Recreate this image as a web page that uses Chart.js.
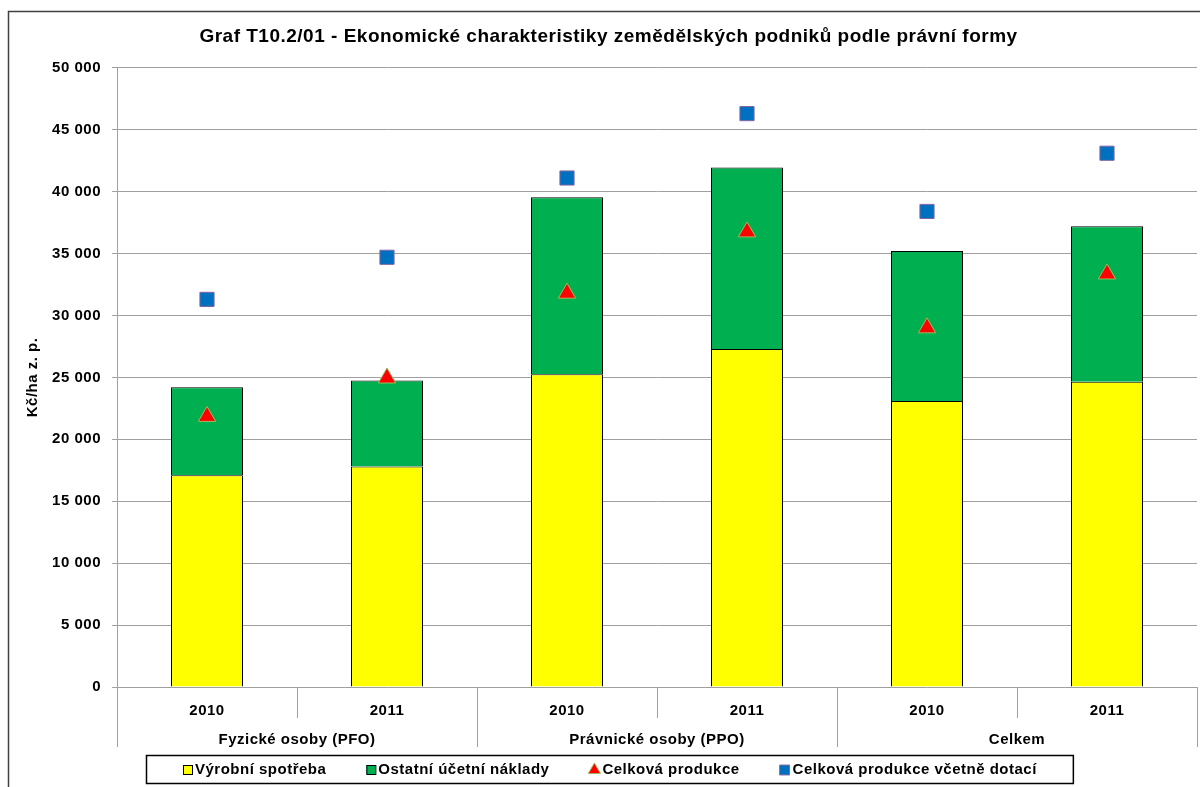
<!DOCTYPE html>
<html>
<head>
<meta charset="utf-8">
<script src="https://cdn.jsdelivr.net/npm/chart.js@4.4.0/dist/chart.umd.min.js"></script>
<style>
  body { margin: 0; background: #fff; }
  #wrap { width: 1200px; height: 787px; position: relative; }
</style>
</head>
<body>
<div id="wrap"><canvas id="chart"></canvas></div>
<script>
const chartTitle = 'Graf T10.2/01 - Ekonomické charakteristiky zemědělských podniků podle právní formy';
const yTitle = 'Kč/ha z. p.';
const groups = ['Fyzické osoby (PFO)', 'Právnické osoby (PPO)', 'Celkem'];
const years = ['2010', '2011', '2010', '2011', '2010', '2011'];
const seriesNames = ['Výrobní spotřeba', 'Ostatní účetní náklady', 'Celková produkce', 'Celková produkce včetně dotací'];

// Kč/ha z. p.
const vyrobniSpotreba = [17100, 17800, 25250, 27300, 23100, 24650];
const ostatniNaklady = [7100, 6950, 14300, 14650, 12100, 12550];
const celkovaProdukce = [21850, 24950, 31800, 36750, 29000, 33350];
const produkceDotace = [31300, 34700, 41100, 46300, 38400, 43100];

const FONT = "'Liberation Sans', Arial, sans-serif";

const fmt = (v) => String(v).replace(/\B(?=(\d{3})+(?!\d))/g, ' ');

// frame, second level of the category axis and the boxed legend
const decor = {
    id: 'decor',
    beforeDraw(chart) {
        const ctx = chart.ctx;
        ctx.save();
        ctx.fillStyle = '#fff';
        ctx.fillRect(0, 0, chart.width, chart.height);
        ctx.strokeStyle = '#404040';
        ctx.lineWidth = 1.5;
        ctx.strokeRect(8.5, 11.5, chart.width + 40, chart.height + 40);
        ctx.restore();
        // excel text runs a bit wider than Liberation Sans
        ctx.letterSpacing = '0.5px';
    },
    afterDraw(chart) {
        const ctx = chart.ctx;
        const x = chart.scales.x;
        const area = chart.chartArea;
        const n = years.length;
        const step = (x.right - x.left) / n;
        const per = n / groups.length;

        ctx.save();
        ctx.strokeStyle = '#a0a0a0';
        ctx.lineWidth = 1;
        for (let i = 0; i <= n; i++) {
            const px = Math.round(x.left + i * step) + 0.5;
            const len = i % per === 0 ? 60 : 31;
            ctx.beginPath();
            ctx.moveTo(px, area.bottom);
            ctx.lineTo(px, area.bottom + len);
            ctx.stroke();
        }

        ctx.fillStyle = '#000';
        ctx.font = 'bold 15px ' + FONT;
        ctx.textAlign = 'center';
        ctx.textBaseline = 'middle';
        groups.forEach((g, i) => {
            ctx.fillText(g, x.left + (i + 0.5) * per * step, area.bottom + 53);
        });

        // legend
        const ly = 770;
        let lx = 183;
        ctx.textAlign = 'left';
        chart.data.datasets.forEach((ds) => {
            if (ds.type === 'bar') {
                ctx.fillStyle = ds.backgroundColor;
                ctx.fillRect(lx, ly - 5, 9, 9);
                ctx.strokeStyle = '#000';
                ctx.strokeRect(lx + 0.5, ly - 4.5, 9, 9);
                lx += 12;
            } else {
                ctx.fillStyle = ds.pointBackgroundColor;
                ctx.strokeStyle = ds.pointBorderColor;
                ctx.lineWidth = 1;
                Chart.helpers.drawPoint(ctx, {
                    pointStyle: ds.pointStyle, radius: 7, rotation: 0, borderWidth: 1
                }, lx + 5, ly);
                lx += 13;
            }
            ctx.fillStyle = '#000';
            ctx.fillText(ds.label, lx, ly);
            lx += ctx.measureText(ds.label).width + 40;
        });
        ctx.strokeStyle = '#000';
        ctx.lineWidth = 1.5;
        ctx.strokeRect(146.5, 755.5, lx - 40 + 36 - 146, 28);
        ctx.restore();
    }
};

new Chart(document.getElementById('chart'), {
    data: {
        labels: years,
        datasets: [
            {
                type: 'bar', label: seriesNames[0], data: vyrobniSpotreba, stack: 'naklady',
                backgroundColor: '#FFFF00', borderColor: '#000', borderWidth: 1,
                barPercentage: 0.4, categoryPercentage: 1, order: 1
            },
            {
                type: 'bar', label: seriesNames[1], data: ostatniNaklady, stack: 'naklady',
                backgroundColor: '#00B050', borderColor: '#000', borderWidth: 1,
                barPercentage: 0.4, categoryPercentage: 1, order: 1
            },
            {
                type: 'line', label: seriesNames[2], data: celkovaProdukce, stack: 'p1',
                showLine: false, pointStyle: 'triangle', pointRadius: 10,
                pointBackgroundColor: '#FF0000', pointBorderColor: '#9BBB59', pointBorderWidth: 1, order: 0
            },
            {
                type: 'line', label: seriesNames[3], data: produkceDotace, stack: 'p2',
                showLine: false, pointStyle: 'rect', pointRadius: 10,
                pointBackgroundColor: '#0070C0', pointBorderColor: '#8064A2', pointBorderWidth: 1, order: 0
            }
        ]
    },
    options: {
        responsive: true,
        maintainAspectRatio: false,
        animation: false,
        layout: { autoPadding: false, padding: { left: 20, right: 3, top: 0, bottom: 40 } },
        plugins: {
            legend: { display: false },
            tooltip: { enabled: false },
            title: {
                display: true,
                text: chartTitle,
                color: '#000',
                font: { family: FONT, size: 19, weight: 'bold' },
                padding: { top: 25, bottom: 20 }
            }
        },
        scales: {
            x: {
                stacked: true,
                grid: { display: false },
                border: { display: false },
                ticks: { color: '#000', font: { family: FONT, size: 15, weight: 'bold' }, padding: 7, maxRotation: 0 },
                afterFit(s) { s.height = 60; }
            },
            y: {
                stacked: true,
                min: 0,
                max: 50000,
                ticks: {
                    stepSize: 5000, color: '#000', padding: 11,
                    font: { family: FONT, size: 15, weight: 'bold' },
                    callback: (v) => fmt(v)
                },
                grid: { color: '#a0a0a0', tickLength: 5 },
                border: { color: '#a0a0a0' },
                title: {
                    display: true, text: yTitle, color: '#000',
                    font: { family: FONT, size: 15, weight: 'bold' },
                    padding: { top: 4, bottom: 0 }
                },
                afterFit(s) { s.width = 97; }
            }
        }
    },
    plugins: [decor]
});
</script>
</body>
</html>
